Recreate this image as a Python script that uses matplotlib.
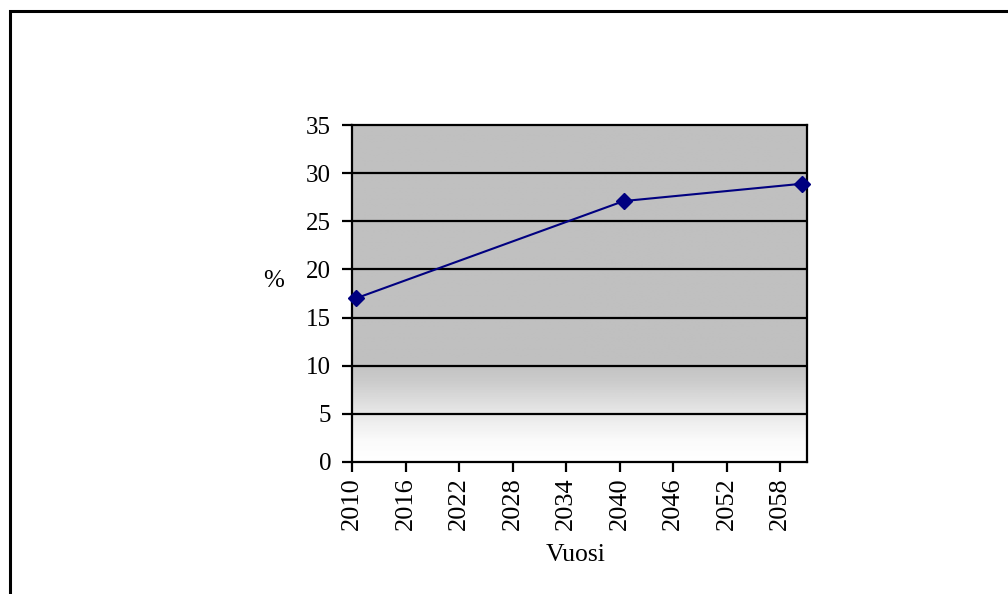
import numpy as np
import matplotlib
matplotlib.use("Agg")
import matplotlib.pyplot as plt
from matplotlib.colors import LinearSegmentedColormap
from matplotlib.patches import Rectangle

years = [2010, 2040, 2060]
values = [17.0, 27.1, 28.9]
x_ticks = [2010, 2016, 2022, 2028, 2034, 2040, 2046, 2052, 2058]
y_ticks = [0, 5, 10, 15, 20, 25, 30, 35]
x_label = "Vuosi"
y_label = "%"

plt.rcParams['font.family'] = ['Liberation Serif', 'DejaVu Serif']
plt.rcParams['font.serif'] = ['Liberation Serif']

W, H = 1008, 594
fig = plt.figure(figsize=(W / 100, H / 100), dpi=100)
fig.patch.set_facecolor('white')

# outer frame (extends beyond the right/bottom edge)
fig.patches.append(Rectangle((9.5 / W, -0.1), 1.2, 1 - 10.5 / H + 0.1,
                             transform=fig.transFigure, fill=False,
                             edgecolor='black', linewidth=2.2))

ax = fig.add_axes([352 / W, 1 - 462 / H, (807 - 352) / W, (462 - 125) / H])
xmin, xmax = 2010, 2061
ax.set_xlim(xmin, xmax)
ax.set_ylim(0, 35)

# gradient background: white at bottom, grey above ~11
cmap = LinearSegmentedColormap.from_list(
    'bg', [(0.0, '#ffffff'), (0.06, '#fbfbfb'), (0.15, '#e6e6e6'),
           (0.24, '#cbcbcb'), (0.30, '#c0c0c0'), (1.0, '#c0c0c0')])
grad = np.linspace(0, 1, 400).reshape(-1, 1)
ax.imshow(grad, cmap=cmap, origin='lower', aspect='auto',
          extent=(xmin, xmax, 0, 35), zorder=0, interpolation='bilinear')

for yv in y_ticks[1:-1]:
    ax.axhline(yv, color='black', linewidth=1.6, zorder=1)

xs = [y + 0.45 for y in years]
ax.plot(xs, values, color='#000080', linewidth=1.5, marker='D',
        markersize=8.5, markerfacecolor='#000080', markeredgecolor='#000080',
        zorder=3, clip_on=False)

ax.set_xticks(x_ticks)
ax.set_xticklabels([str(t) for t in x_ticks], rotation=90,
                   family='Liberation Serif', fontsize=19)
ax.set_yticks(y_ticks)
ax.set_yticklabels([str(t) for t in y_ticks], family='Liberation Serif',
                   fontsize=18)
ax.tick_params(axis='both', direction='out', length=7, width=1.6,
               colors='black')
ax.tick_params(axis='x', pad=4)
ax.tick_params(axis='y', pad=8)
for sp in ax.spines.values():
    sp.set_linewidth(1.6)
    sp.set_color('black')

fig.text(274 / W, 1 - 281 / H, y_label, fontsize=18, ha='center', va='center',
         family='Liberation Serif')
fig.text(576 / W, 1 - 555 / H, x_label, fontsize=18.5, ha='center', va='center',
         family='Liberation Serif')

fig.savefig('out.png', dpi=100, facecolor='white')
